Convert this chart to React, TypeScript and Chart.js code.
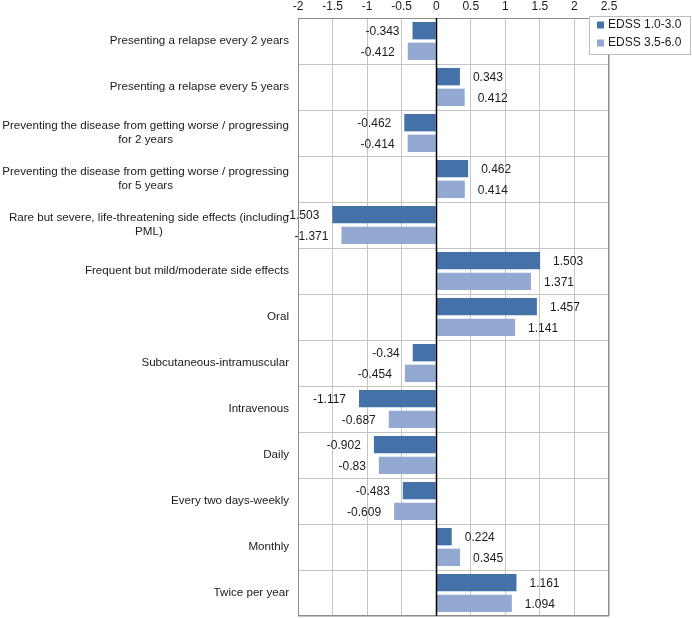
import React, { useEffect, useRef } from "react";
import { Chart, registerables } from "chart.js";

Chart.register(...registerables);

const categories: (string | string[])[] = [
  "Presenting a relapse every 2 years",
  "Presenting a relapse every 5 years",
  ["Preventing the disease from getting worse / progressing", "for 2 years"],
  ["Preventing the disease from getting worse / progressing", "for 5 years"],
  ["Rare but severe, life-threatening side effects (including", "PML)"],
  "Frequent but mild/moderate side effects",
  "Oral",
  "Subcutaneous-intramuscular",
  "Intravenous",
  "Daily",
  "Every two days-weekly",
  "Monthly",
  "Twice per year",
];

const seriesNames = ["EDSS 1.0-3.0", "EDSS 3.5-6.0"];
const edssLow = [-0.343, 0.343, -0.462, 0.462, -1.503, 1.503, 1.457, -0.34, -1.117, -0.902, -0.483, 0.224, 1.161];
const edssHigh = [-0.412, 0.412, -0.414, 0.414, -1.371, 1.371, 1.141, -0.454, -0.687, -0.83, -0.609, 0.345, 1.094];
const xTicks = [-2, -1.5, -1, -0.5, 0, 0.5, 1, 1.5, 2, 2.5];

const colors = ["#4571A9", "#93A9D2"];
const FONT = "Arial, 'Liberation Sans', sans-serif";

const labelPlugin = {
  id: "customLabels",
  afterDatasetsDraw(chart: any) {
    const ctx = chart.ctx;
    ctx.save();
    ctx.font = `12px ${FONT}`;
    ctx.fillStyle = "#1a1a1a";
    ctx.textBaseline = "middle";
    chart.data.datasets.forEach((ds: any, di: number) => {
      const meta = chart.getDatasetMeta(di);
      meta.data.forEach((bar: any, i: number) => {
        const v = ds.data[i];
        const txt = String(v);
        if (v >= 0) {
          ctx.textAlign = "left";
          ctx.fillText(txt, bar.x + 13, bar.y + 1);
        } else {
          ctx.textAlign = "right";
          ctx.fillText(txt, bar.x - 13, bar.y + 1);
        }
      });
    });
    ctx.restore();
  },
  afterDraw(chart: any) {
    const ctx = chart.ctx;
    const area = chart.chartArea;
    const yScale = chart.scales.y;
    ctx.save();
    // category labels
    ctx.font = `11.6px ${FONT}`;
    ctx.fillStyle = "#1a1a1a";
    ctx.textBaseline = "middle";
    ctx.textAlign = "center";
    const rightEdge = area.left - 9;
    const lineH = 14;
    categories.forEach((c, i) => {
      const lines = Array.isArray(c) ? c : [c];
      const w = Math.max(...lines.map((l) => ctx.measureText(l).width));
      const cx = rightEdge - w / 2;
      const cy = yScale.getPixelForValue(i);
      const y0 = cy - ((lines.length - 1) * lineH) / 2;
      lines.forEach((l, k) => ctx.fillText(l, cx, y0 + k * lineH));
    });
    // border
    ctx.strokeStyle = "#8c8c8c";
    ctx.lineWidth = 1;
    ctx.strokeRect(area.left + 0.5, area.top + 0.5, area.right - area.left - 1, area.bottom - area.top - 1);
    // zero line
    const zx = Math.round(chart.scales.x.getPixelForValue(0)) + 0.5;
    ctx.strokeStyle = "#000";
    ctx.lineWidth = 1.5;
    ctx.beginPath();
    ctx.moveTo(zx, area.top);
    ctx.lineTo(zx, area.bottom);
    ctx.stroke();
    // legend
    const lx = 589, ly = 16, lw = 101, lh = 38;
    ctx.fillStyle = "#fff";
    ctx.fillRect(lx, ly, lw, lh);
    ctx.strokeStyle = "#bdbdbd";
    ctx.lineWidth = 1;
    ctx.strokeRect(lx + 0.5, ly + 0.5, lw, lh);
    ctx.font = `12px ${FONT}`;
    ctx.textAlign = "left";
    seriesNames.forEach((n, i) => {
      const yy = ly + 9 + i * 18;
      ctx.fillStyle = colors[i];
      ctx.fillRect(lx + 8, yy - 3.5, 7, 7);
      ctx.fillStyle = "#1a1a1a";
      ctx.fillText(n, lx + 19, yy);
    });
    ctx.restore();
  },
};

export default function App() {
  const ref = useRef<HTMLCanvasElement | null>(null);
  useEffect(() => {
    document.body.style.margin = "0";
    const chart = new Chart(ref.current!, {
      type: "bar",
      data: {
        labels: categories.map((c) => (Array.isArray(c) ? c.join(" ") : c)),
        datasets: [
          { label: seriesNames[0], data: edssLow, backgroundColor: colors[0], categoryPercentage: 0.9, barPercentage: 0.84 },
          { label: seriesNames[1], data: edssHigh, backgroundColor: colors[1], categoryPercentage: 0.9, barPercentage: 0.84 },
        ],
      },
      options: {
        indexAxis: "y",
        animation: false,
        responsive: false,
        maintainAspectRatio: false,
        layout: { padding: { left: 0, right: 83, top: 0, bottom: 2 } },
        plugins: { legend: { display: false }, tooltip: { enabled: false } },
        scales: {
          x: {
            position: "top",
            min: -2,
            max: 2.5,
            afterBuildTicks: (s: any) => {
              s.ticks = xTicks.map((v) => ({ value: v }));
            },
            afterFit: (s: any) => {
              s.height = 18;
            },
            ticks: {
              font: { family: FONT, size: 12 },
              color: "#1a1a1a",
              padding: 4,
              callback: (v: any) => String(v),
            },
            grid: { color: "#c4c4c4", drawTicks: false },
            border: { display: false },
          },
          y: {
            ticks: { display: false },
            afterFit: (s: any) => {
              s.width = 298;
            },
            grid: { color: "#c4c4c4", offset: true, drawTicks: false },
            border: { display: false },
          },
        },
      },
      plugins: [labelPlugin],
    } as any);
    return () => chart.destroy();
  }, []);
  return (
    <div style={{ position: "relative", width: 692, height: 618 }}>
      <canvas ref={ref} width={692} height={618} style={{ width: 692, height: 618, display: "block" }} />
    </div>
  );
}
